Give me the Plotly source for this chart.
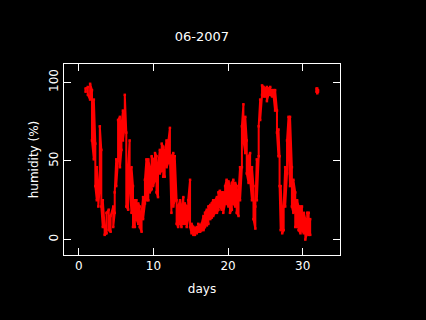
import plotly.graph_objects as go

# Data: day, lower and upper humidity of the band
days = [0.9, 1.2, 1.5, 1.75, 2.0, 2.2, 2.4, 2.6, 2.8, 3.0, 3.2, 3.45, 3.7, 4.0, 4.25, 4.6, 4.8,
        5.0, 5.25, 5.5, 5.7, 5.9, 6.15, 6.35, 6.6, 6.8, 7.05, 7.25, 7.5, 7.7, 7.95, 8.15, 8.4,
        8.6, 8.85, 9.05, 9.3, 9.5, 9.75, 9.95, 10.2, 10.4, 10.6, 10.85, 11.1, 11.3, 11.5, 11.75,
        12.0, 12.2, 12.4, 12.65, 12.85, 13.1, 13.3, 13.55, 13.75, 14.0, 14.2, 14.45, 14.65, 14.9,
        15.1, 15.35, 15.55, 15.8, 16.0, 16.25, 16.45, 16.7, 16.9, 17.15, 17.35, 17.6, 17.8, 18.0,
        18.25, 18.5, 18.7, 18.9, 19.15, 19.35, 19.6, 19.8, 20.05, 20.25, 20.5, 20.7, 20.95, 21.15,
        21.4, 21.6, 21.85, 22.05, 22.3, 22.5, 22.75, 22.95, 23.2, 23.4, 23.65, 23.85, 24.1, 24.3,
        24.55, 24.75, 25.0, 25.2, 25.4, 25.65, 25.9, 26.1, 26.3, 26.55, 26.75, 26.9, 27.05, 27.25,
        27.45, 27.65, 27.9, 28.1, 28.3, 28.55, 28.75, 29.0, 29.25, 29.45, 29.7, 29.9, 30.15, 30.35,
        30.6, 30.8, 31.0]
hum_lo = [94, 92, 89, 63, 51, 34, 25, 21, 34, 21, 8, 3, 4, 6, 5, 8, 17,
          34, 51, 46, 57, 63, 72, 21, 19, 34, 17, 8, 8, 13, 10, 8, 5,
          13, 23, 25, 25, 30, 32, 34, 38, 30, 27, 42, 44, 40, 40, 46,
          49, 53, 17, 21, 25, 10, 8, 10, 8, 10, 10, 8, 13, 8,
          4, 3, 3, 4, 5, 5, 6, 6, 8, 9, 10, 13, 14, 15,
          17, 17, 19, 21, 19, 17, 23, 23, 21, 17, 19, 23, 21, 17,
          15, 25, 46, 63, 55, 42, 36, 38, 25, 13, 7, 25, 53, 76,
          92, 91, 91, 88, 92, 92, 91, 91, 82, 68, 53, 34, 6, 4,
          6, 21, 42, 59, 34, 21, 17, 8, 8, 6, 4, 6, 4, 0,
          4, 3, 3]
hum_hi = [96, 97, 99, 95, 89, 61, 46, 34, 72, 57, 25, 8, 17, 19, 15, 21, 30,
          51, 76, 78, 72, 82, 92, 68, 46, 63, 46, 34, 25, 25, 23, 21, 17,
          27, 38, 51, 51, 46, 53, 51, 55, 53, 46, 57, 61, 59, 55, 63,
          63, 71, 53, 55, 53, 25, 21, 25, 21, 27, 23, 21, 25, 38,
          10, 8, 7, 8, 10, 9, 10, 15, 17, 19, 21, 22, 23, 25,
          25, 27, 30, 31, 30, 30, 34, 38, 37, 34, 36, 38, 36, 34,
          30, 46, 72, 86, 78, 63, 53, 55, 46, 34, 21, 51, 72, 89,
          98, 97, 96, 97, 96, 97, 95, 95, 95, 82, 70, 53, 34, 15,
          21, 46, 63, 78, 78, 46, 38, 30, 25, 21, 21, 21, 17, 13,
          17, 17, 13]
# isolated reading near day 32
late_days = [31.85, 31.95, 32.05]
late_lo = [94, 93, 94]
late_hi = [96, 96, 95]


def band(xs, lo, hi):
    bx, by = [], []
    for i, (d, a, b) in enumerate(zip(xs, lo, hi)):
        if i % 2 == 0:
            bx += [d, d]
            by += [a, b]
        else:
            bx += [d, d]
            by += [b, a]
    return bx, by


bx, by = band(days, hum_lo, hum_hi)
lx, ly = band(late_days, late_lo, late_hi)

red = "#ff0000"
fig = go.Figure()
fig.add_trace(go.Scatter(x=bx, y=by, mode="lines+markers",
                         line=dict(color=red, width=2),
                         marker=dict(color=red, size=2.5, symbol="square"),
                         hoverinfo="skip", showlegend=False))
fig.add_trace(go.Scatter(x=lx, y=ly, mode="lines+markers",
                         line=dict(color=red, width=2),
                         marker=dict(color=red, size=2.5, symbol="square"),
                         hoverinfo="skip", showlegend=False))

font = dict(family="DejaVu Sans", size=12, color="white")
axis_common = dict(showline=True, mirror="ticks", linecolor="white", linewidth=1,
                   ticks="inside", ticklen=7, tickcolor="white", tickwidth=1,
                   showgrid=False, zeroline=False, tickfont=font)

fig.update_layout(
    width=426, height=320,
    paper_bgcolor="black", plot_bgcolor="black",
    margin=dict(l=64, r=86, t=64, b=65),
    font=font,
    title=dict(text="06-2007", x=0.5, xref="paper", y=1 - 36 / 320, yanchor="middle",
               xanchor="center", font=dict(family="DejaVu Sans", size=13, color="white")),
    xaxis=dict(range=[-2, 35], tickvals=[0, 10, 20, 30],
               title=dict(text="days", font=font, standoff=12), **axis_common),
    yaxis=dict(range=[-9.8, 111.6], tickvals=[0, 50, 100], tickangle=-90,
               title=dict(text="humidity (%)", font=font, standoff=6), **axis_common),
)

fig.write_html("out.html",
               config={"displayModeBar": False, "staticPlot": True},
               post_script="document.body.style.margin='0';"
                           "document.body.style.background='black';"
                           "document.body.style.overflow='hidden';")
